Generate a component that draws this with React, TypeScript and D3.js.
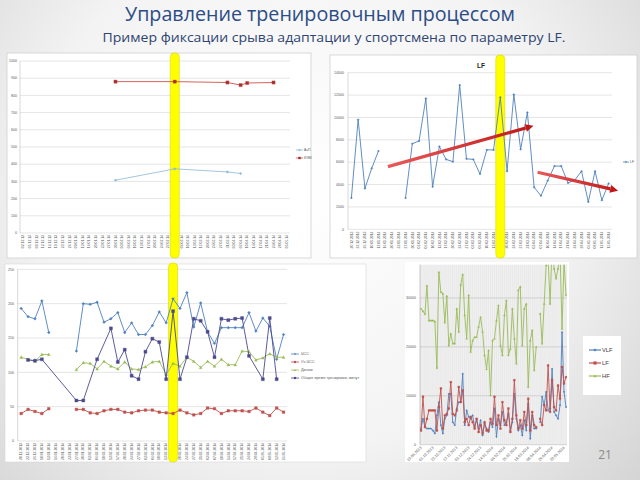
import React from "react";
import * as d3 from "d3";

// ---------- Panel 1 (top-left) ----------
const p1Dates = ["02.12.13","05.12.13","09.12.13","12.12.13","16.12.13","19.12.13","23.12.13","26.12.13","09.01.14","13.01.14","16.01.14","20.01.14","23.01.14","27.01.14","30.01.14","03.02.14","06.02.14","10.02.14","13.02.14","17.02.14","20.02.14","24.02.14","27.02.14","03.03.14","06.03.14","10.03.14","13.03.14","17.03.14","20.03.14","24.03.14","27.03.14","31.03.14","03.04.14","07.04.14","10.04.14","14.04.14","17.04.14","21.04.14","24.04.14","28.04.14","05.05.14"];
const p1Aep: (number | null)[] = [null,null,null,null,null,null,null,null,null,null,null,null,null,null,307,null,null,null,null,null,null,null,null,373,null,null,null,null,null,null,null,355,null,346,null,null,null,null,null,null,null];
const p1Iem: (number | null)[] = [null,null,null,null,null,null,null,null,null,null,null,null,null,null,880,null,null,null,null,null,null,null,null,880,null,null,null,null,null,null,null,875,null,860,872,null,null,null,875,null,null];
const p1Ticks = [0,100,200,300,400,500,600,700,800,900,1000];
const p1Legend = ["АэП", "ИЭМ"];
const p1Highlight = 23;

// ---------- Panel 2 (top-right, LF) ----------
const lfDates = ["20.12.2013","23.12.2013","26.12.2013","10.01.2014","13.01.2014","16.01.2014","20.01.2014","23.01.2014","27.01.2014","30.01.2014","03.02.2014","06.02.2014","10.02.2014","13.02.2014","17.02.2014","20.02.2014","24.02.2014","27.02.2014","03.03.2014","06.03.2014","10.03.2014","13.03.2014","17.03.2014","20.03.2014","24.03.2014","27.03.2014","31.03.2014","03.04.2014","07.04.2014","10.04.2014","14.04.2014","17.04.2014","21.04.2014","24.04.2014","28.04.2014","05.05.2014","08.05.2014","12.05.2014","15.05.2014"];
const lfValues: (number | null)[] = [2800,9800,3650,5450,7000,null,null,null,2800,7650,7900,11700,3800,7400,6250,6050,12900,6300,6250,4950,7100,7100,11800,5200,12050,7150,10450,3750,3000,4350,5650,5650,4150,4400,5200,2450,5200,2600,4100];
const lfTicks = [0,2000,4000,6000,8000,10000,12000,14000];
const lfHighlight = 22;
const trendUp: [number, number][] = [[5.4, 5600], [26.9, 9250]];
const trendDown: [number, number][] = [[27.5, 5100], [39.4, 3450]];

// ---------- Panel 3 (bottom-left) ----------
const hrValues: (number | null)[] = [193,181,178,204,158,null,null,null,131,200,199,202,173,178,187,158,172,155,155,168,188,172,207,193,216,166,201,159,142,165,165,165,165,187,160,179,167,119,155];
const hrRestValues: (number | null)[] = [40,46,43,40,47,null,null,null,46,46,41,40,44,46,46,42,41,44,45,45,42,41,40,45,41,38,40,48,47,40,44,44,44,43,48,42,37,48,42];
const dynValues: (number | null)[] = [122,119,116,126,126,null,null,null,104,114,113,105,116,109,105,115,105,104,108,115,116,97,113,109,122,116,107,116,109,119,111,111,131,130,118,121,127,122,122];
const totalTimeValues: (number | null)[] = [null,118,117,119,null,null,null,null,59,59,null,119,null,164,115,133,95,90,130,149,144,90,189,90,122,178,175,159,122,178,176,178,179,124,null,90,179,90,null];
const p3Ticks = [0,50,100,150,200,250];
const p3Legend = ["ЧСС", "Уч ЧСС", "Динам", "Общее время тренировки, минут"];
const p3Highlight = 22;

// ---------- Panel 4 (bottom-right, spectrum) ----------
const vlfValues: (number | null)[] = [3300,5300,3600,3300,3300,3300,2900,2300,6000,8700,4000,2300,5300,6000,10400,10400,4600,4000,7400,8700,8700,14500,4000,7000,5700,5300,6000,3600,5300,3300,5000,1900,4300,3300,2600,4600,3600,7400,1600,5300,4000,6700,4000,4600,6300,2900,4600,10400,5300,2900,4000,1900,5000,2900,8400,1200,6000,3300,3300,null,4600,9800,8100,10800,7000,7400,15500,6700,6000,5300,8100,23000,10800,7700];
const lfSpecValues: (number | null)[] = [2900,9800,3600,5300,7000,7000,7000,7000,2900,7700,11500,3300,6000,6300,7400,12800,6300,6000,7000,11800,8700,11100,4600,5300,4000,5700,4600,3300,5300,2600,4000,2300,4600,2900,2900,5300,4300,9800,4000,6000,3300,8700,5000,4000,7400,2600,5300,13200,6000,3300,5000,3300,6700,4000,9400,2900,6700,4000,3600,null,5300,4000,8100,7000,16200,6700,13200,7700,7000,12100,9400,15900,12500,13800];
const hfValues: (number | null)[] = [27800,27300,26700,32500,25400,25400,25400,25200,15700,35300,31200,30900,25000,30400,20300,22700,20700,20700,27800,23100,32700,34800,26500,21700,30600,19000,21300,22000,22000,24100,26100,23100,18300,15500,19300,10100,21300,21700,25400,28500,20300,18300,26500,29500,18300,19600,27800,21700,16600,31600,32300,20300,27800,28800,11800,21300,23400,15200,20000,null,26800,20700,28800,36700,38000,28800,40800,36000,34000,36000,39400,23700,37400,30600];
const specLabels = ["10.09.2013","01.10.2013","22.10.2013","12.11.2013","03.12.2013","24.12.2013","14.01.2014","04.02.2014","25.02.2014","18.03.2014","08.04.2014","29.04.2014","20.05.2014"];
const specTicks = [0,10000,20000,30000];
const specLegend = ["VLF", "LF", "HF"];

const BLUE = "#4F81BD";
const RED = "#C0504D";
const GREEN = "#9BBB59";
const DARK = "#4B4A8E";
const GRID = "#D4D4D4";
const LABEL = "#595959";
const FONT = "'Liberation Sans', Arial, sans-serif";

function markerPath(type: string, s: number) {
  switch (type) {
    case "diamond": return `M0,${-s}L${s},0L0,${s}L${-s},0Z`;
    case "square": return `M${-s},${-s}h${2 * s}v${2 * s}h${-2 * s}Z`;
    case "triangle": return `M0,${-s}L${s},${s * 0.85}L${-s},${s * 0.85}Z`;
    default: return `M${-s},0a${s},${s} 0 1,0 ${2 * s},0a${s},${s} 0 1,0 ${-2 * s},0`;
  }
}

function Series(props: {
  x: any; y: any; values: (number | null)[]; color: string; marker: string; size: number;
  mFill?: string; mStroke?: string; width?: number; connect?: boolean; clip?: string;
}) {
  const { x, y, values, color, marker, size, mFill, mStroke, width = 1, connect, clip } = props;
  const pts = values.map((v, i) => ({ i, v }));
  const data = connect ? pts.filter((p) => p.v != null) : pts;
  const line = d3.line<{ i: number; v: number | null }>()
    .defined((p) => p.v != null)
    .x((p) => x(p.i))
    .y((p) => y(p.v as number));
  return (
    <g clipPath={clip}>
      <path d={line(data) || ""} fill="none" stroke={color} strokeWidth={width} strokeLinejoin="round" />
      {pts.filter((p) => p.v != null).map((p) => (
        <path key={p.i} transform={`translate(${x(p.i)},${y(p.v as number)})`} d={markerPath(marker, size)}
          fill={mFill || color} stroke={mStroke || color} strokeWidth={0.4} />
      ))}
    </g>
  );
}

function Highlight({ cx, y0, y1 }: { cx: number; y0: number; y1: number }) {
  return <rect x={cx - 4.5} y={y0} width={9} height={y1 - y0} rx={4} fill="#FFFF00" stroke="#D9D900" strokeWidth={0.6} />;
}

function Arrow({ x1, y1, x2, y2, id }: { x1: number; y1: number; x2: number; y2: number; id: string }) {
  const a = Math.atan2(y2 - y1, x2 - x1);
  const L = 8, Wd = 4;
  const bx = x2 - L * Math.cos(a), by = y2 - L * Math.sin(a);
  const px = -Math.sin(a) * Wd, py = Math.cos(a) * Wd;
  return (
    <g>
      <defs>
        <linearGradient id={id} x1={x1} y1={y1} x2={x2} y2={y2} gradientUnits="userSpaceOnUse">
          <stop offset="0" stopColor="#E85A5A" />
          <stop offset="1" stopColor="#C01818" />
        </linearGradient>
      </defs>
      <line x1={x1} y1={y1} x2={bx} y2={by} stroke={`url(#${id})`} strokeWidth={3.2} />
      <path d={`M${x2},${y2}L${bx + px},${by + py}L${bx - px},${by - py}Z`} fill="#C01818" />
    </g>
  );
}

export default function App() {
  // Panel 1 scales
  const x1 = d3.scalePoint<number>().domain(d3.range(p1Dates.length)).range([20, 290]).padding(0.5);
  const y1 = d3.scaleLinear().domain([0, 1000]).range([233, 61]);
  // Panel 2 scales
  const x2 = d3.scalePoint<number>().domain(d3.range(lfDates.length)).range([348, 612]).padding(0.5);
  const y2 = d3.scaleLinear().domain([0, 14000]).range([229.3, 72.7]);
  const x2c = (i: number) => (x2(0) as number) + i * x2.step();
  // Panel 3 scales
  const x3 = d3.scalePoint<number>().domain(d3.range(lfDates.length)).range([17.7, 287]).padding(0.5);
  const y3 = d3.scaleLinear().domain([0, 250]).range([441, 269.3]);
  // Panel 4 scales
  const x4 = d3.scalePoint<number>().domain(d3.range(hfValues.length)).range([420, 567]).padding(0.5);
  const y4 = d3.scaleLinear().domain([0, 36800]).range([444.7, 264.7]);

  return (
    <svg width={640} height={480} style={{ position: "absolute", left: 0, top: 0 }} fontFamily={FONT}>
      <defs>
        <radialGradient id="bg" cx="300" cy="190" r="480" gradientUnits="userSpaceOnUse">
          <stop offset="0" stopColor="#FFFFFF" />
          <stop offset="0.55" stopColor="#F3F3F3" />
          <stop offset="1" stopColor="#CFCFCF" />
        </radialGradient>
        <clipPath id="clip4"><rect x={420} y={264.7} width={147} height={181} /></clipPath>
      </defs>
      <rect x={0} y={0} width={640} height={480} fill="url(#bg)" />

      {/* Titles */}
      <text x={320} y={21} textAnchor="middle" fontSize={20} fill="#2C4C86" fontFamily="'Open Sans', sans-serif"
        textLength={390} lengthAdjust="spacingAndGlyphs">Управление тренировочным процессом</text>
      <text x={334} y={42} textAnchor="middle" fontSize={13.5} fill="#2E4473" fontFamily="'Open Sans', sans-serif"
        textLength={463} lengthAdjust="spacingAndGlyphs">Пример фиксации срыва адаптации у спортсмена по параметру LF.</text>

      {/* ---------- Panel 1 ---------- */}
      <rect x={7} y={53} width={304} height={205} fill="#FFFFFF" stroke="#CFCFCF" strokeWidth={0.8} />
      {p1Ticks.map((t) => (
        <g key={t}>
          <line x1={20} x2={290} y1={y1(t)} y2={y1(t)} stroke={GRID} strokeWidth={0.6} />
          <text x={17} y={y1(t) + 1.2} fontSize={3.6} textAnchor="end" fill={LABEL}>{t}</text>
        </g>
      ))}
      <line x1={20} x2={20} y1={61} y2={233} stroke="#BFBFBF" strokeWidth={0.6} />
      {p1Dates.map((d, i) => (
        <text key={d} transform={`translate(${(x1(i) as number) + 1.2},${235}) rotate(-90)`} fontSize={3.4} textAnchor="end" fill={LABEL}>{d}</text>
      ))}
      <Highlight cx={x1(p1Highlight) as number} y0={53} y1={258} />
      <Series x={x1} y={y1} values={p1Aep} color="#8CB8DA" marker="diamond" size={1.3} width={0.8} connect />
      <Series x={x1} y={y1} values={p1Iem} color="#D0504D" marker="square" size={1.6} mFill="#A0302D" width={0.9} connect />
      {p1Legend.map((l, k) => (
        <g key={l} transform={`translate(296,${150 + k * 8})`}>
          <line x1={0} x2={7} y1={0} y2={0} stroke={k === 0 ? "#8CB8DA" : "#D0504D"} strokeWidth={0.8} />
          <path transform="translate(3.5,0)" d={markerPath(k === 0 ? "diamond" : "square", 1.2)} fill={k === 0 ? "#8CB8DA" : "#A0302D"} />
          <text x={8} y={1.2} fontSize={3.4} fill={LABEL}>{l}</text>
        </g>
      ))}

      {/* ---------- Panel 2 ---------- */}
      <rect x={330} y={55} width={307} height={203} fill="#FFFFFF" stroke="#CFCFCF" strokeWidth={0.8} />
      <text x={481} y={68} fontSize={6.5} fontWeight="bold" textAnchor="middle" fill="#222">LF</text>
      {lfTicks.map((t) => (
        <g key={t}>
          <line x1={348} x2={612} y1={y2(t)} y2={y2(t)} stroke={GRID} strokeWidth={0.6} />
          <text x={344} y={y2(t) + 1.2} fontSize={3.6} textAnchor="end" fill={LABEL}>{t}</text>
        </g>
      ))}
      <line x1={348} x2={348} y1={72.7} y2={229.3} stroke="#BFBFBF" strokeWidth={0.6} />
      {lfDates.map((d, i) => (
        <text key={d} transform={`translate(${(x2(i) as number) + 1.2},${231.5}) rotate(-90)`} fontSize={3.4} textAnchor="end" fill={LABEL}>{d}</text>
      ))}
      <Highlight cx={x2(lfHighlight) as number} y0={55} y1={258} />
      <Series x={x2} y={y2} values={lfValues} color={BLUE} marker="diamond" size={1.0} width={0.9} />
      <Arrow id="ar1" x1={x2c(trendUp[0][0])} y1={y2(trendUp[0][1])} x2={x2c(trendUp[1][0])} y2={y2(trendUp[1][1])} />
      <Arrow id="ar2" x1={x2c(trendDown[0][0])} y1={y2(trendDown[0][1])} x2={x2c(trendDown[1][0])} y2={y2(trendDown[1][1])} />
      <g transform="translate(623,162)">
        <line x1={0} x2={6} y1={0} y2={0} stroke={BLUE} strokeWidth={0.8} />
        <path transform="translate(3,0)" d={markerPath("diamond", 1)} fill={BLUE} />
        <text x={7} y={1.2} fontSize={3.6} fill={LABEL}>LF</text>
      </g>

      {/* ---------- Panel 3 ---------- */}
      <rect x={5} y={264} width={361} height={198} fill="#FFFFFF" stroke="#D6D6D6" strokeWidth={0.6} />
      {p3Ticks.map((t) => (
        <g key={t}>
          <line x1={17.7} x2={287} y1={y3(t)} y2={y3(t)} stroke={GRID} strokeWidth={0.6} />
          <text x={14} y={y3(t) + 1.2} fontSize={3.6} textAnchor="end" fill={LABEL}>{t}</text>
        </g>
      ))}
      <line x1={17.7} x2={17.7} y1={269.3} y2={441} stroke="#BFBFBF" strokeWidth={0.6} />
      {lfDates.map((d, i) => (
        <text key={d} transform={`translate(${(x3(i) as number) + 1.2},${443}) rotate(-90)`} fontSize={3.4} textAnchor="end" fill={LABEL}>{d}</text>
      ))}
      <Highlight cx={x3(p3Highlight) as number} y0={263} y1={462} />
      <Series x={x3} y={y3} values={hrValues} color={BLUE} marker="diamond" size={1.4} width={0.9} />
      <Series x={x3} y={y3} values={hrRestValues} color={RED} marker="square" size={1.3} width={0.9} />
      <Series x={x3} y={y3} values={dynValues} color={GREEN} marker="triangle" size={1.4} width={0.9} />
      <Series x={x3} y={y3} values={totalTimeValues} color={DARK} marker="square" size={1.5} width={0.9} connect />
      {p3Legend.map((l, k) => {
        const c = [BLUE, RED, GREEN, DARK][k];
        const m = ["diamond", "square", "triangle", "square"][k];
        return (
          <g key={l} transform={`translate(291,${354 + k * 8})`}>
            <line x1={0} x2={8} y1={0} y2={0} stroke={c} strokeWidth={0.8} />
            <path transform="translate(4,0)" d={markerPath(m, 1.1)} fill={c} />
            <text x={10} y={1.3} fontSize={3.8} fill={LABEL}>{l}</text>
          </g>
        );
      })}

      {/* ---------- Panel 4 ---------- */}
      <rect x={405} y={262} width={164} height={200} fill="#FFFFFF" />
      <rect x={420} y={264.7} width={147} height={180} fill="#F1F1F1" />
      {hfValues.map((_, i) => (
        <line key={i} x1={x4(i) as number} x2={x4(i) as number} y1={264.7} y2={444.7} stroke="#DCDCDC" strokeWidth={0.4} />
      ))}
      {specTicks.map((t) => (
        <g key={t}>
          <line x1={420} x2={567} y1={y4(t)} y2={y4(t)} stroke="#BDBDBD" strokeWidth={0.6} />
          <text x={416} y={y4(t) + 1.2} fontSize={3.6} textAnchor="end" fill={LABEL}>{t}</text>
        </g>
      ))}
      <line x1={420} x2={420} y1={264.7} y2={444.7} stroke="#A6A6A6" strokeWidth={0.6} />
      {specLabels.map((d, k) => (
        <text key={d} transform={`translate(${(x4(k * 6) as number) + 1},${448}) rotate(-45)`} fontSize={3.8} textAnchor="end" fill={LABEL}>{d}</text>
      ))}
      <Series x={x4} y={y4} values={hfValues} color={GREEN} marker="triangle" size={0.9} width={0.9} clip="url(#clip4)" />
      <Series x={x4} y={y4} values={vlfValues} color={BLUE} marker="diamond" size={0.9} width={0.9} clip="url(#clip4)" />
      <Series x={x4} y={y4} values={lfSpecValues} color={RED} marker="square" size={0.9} width={0.9} clip="url(#clip4)" />
      <rect x={583} y={336} width={38} height={59} fill="#FFFFFF" />
      {specLegend.map((l, k) => {
        const c = [BLUE, RED, GREEN][k];
        const m = ["diamond", "square", "triangle"][k];
        return (
          <g key={l} transform={`translate(589,${350 + k * 13})`}>
            <line x1={0} x2={12} y1={0} y2={0} stroke={c} strokeWidth={1.2} />
            <path transform="translate(6,0)" d={markerPath(m, 1.6)} fill={c} />
            <text x={13} y={2} fontSize={5.8} fill="#404040">{l}</text>
          </g>
        );
      })}

      {/* page number */}
      <text x={605} y={459} textAnchor="middle" fontSize={12} fill="#8A8A8A" fontFamily="'Open Sans', sans-serif">21</text>
    </svg>
  );
}
